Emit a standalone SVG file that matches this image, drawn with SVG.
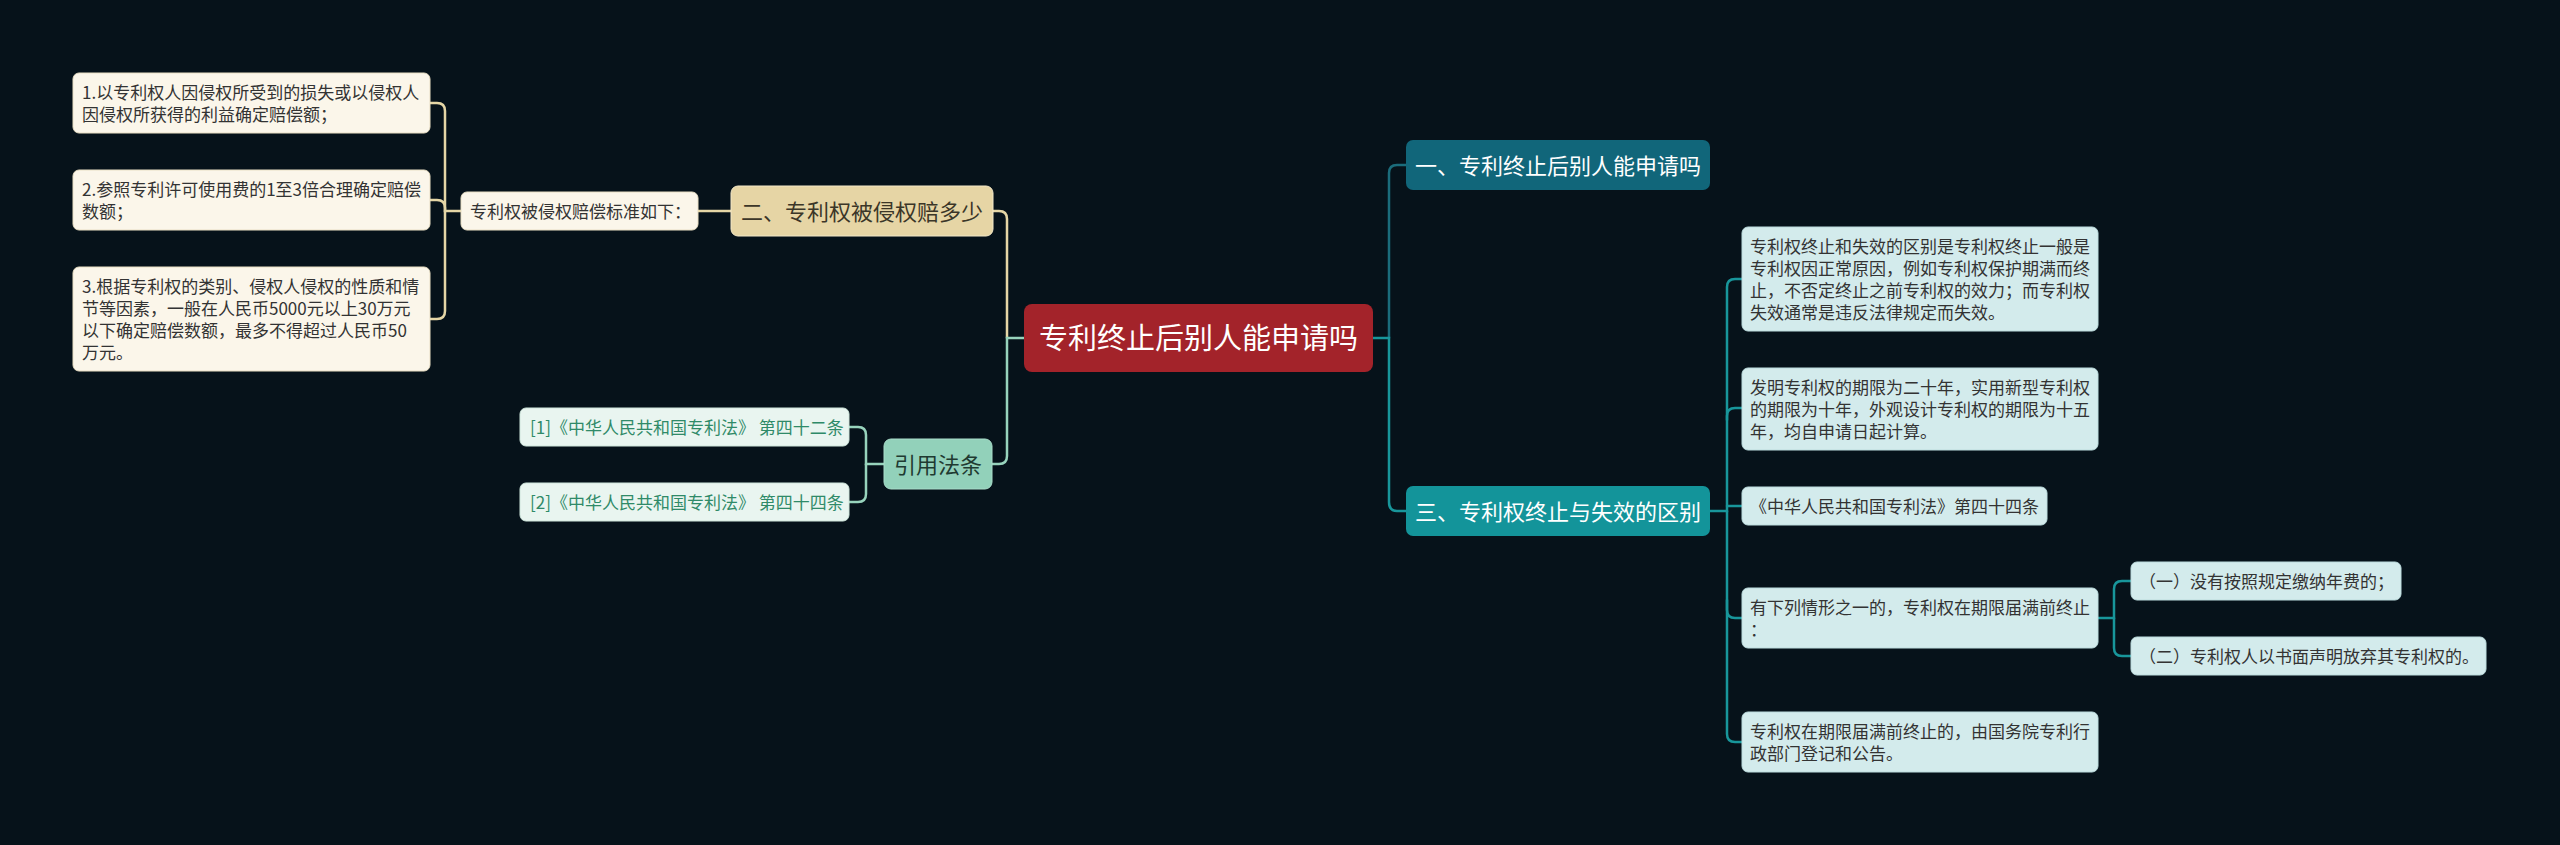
<svg xmlns="http://www.w3.org/2000/svg" width="2560" height="845" viewBox="0 0 2560 845">
<style>
text{font-family:"Noto Sans CJK SC","Noto Sans",sans-serif;}
.bg{fill:#06121a;}
.ln{fill:none;stroke-width:2.5;stroke-linecap:round;}
.cy{stroke:#e5d6a6;}
.cg{stroke:#97d3bc;}
.cd{stroke:#1b6c7b;}
.ct{stroke:#18969b;}
.leafY{fill:#fbf6ea;stroke:#e9dfc4;stroke-width:1;}
.leafG{fill:#e9f5f0;stroke:#cfe6dc;stroke-width:1;}
.leafC{fill:#d3ebec;stroke:#bcdcde;stroke-width:1;}
.t17{font-size:17px;fill:#333333;}
.tg{font-size:17px;fill:#2f8a68;}
.t22{font-size:22px;}
</style>
<rect class="bg" x="0" y="0" width="2560" height="845"/>
<g id="connectors">
<path class="ln cy" d="M1007 338 V219 Q1007 211 999 211 H993"/>
<path class="ln cg" d="M1024 338 H1007 V456 Q1007 464 999 464 H992"/>
<path class="ln cy" d="M731 211 H698"/>
<path class="ln cy" d="M461 211 H445 V111 Q445 103 437 103 H430"/>
<path class="ln cy" d="M445 211 V208 Q445 200 437 200 H430"/>
<path class="ln cy" d="M445 211 V311 Q445 319 437 319 H430"/>
<path class="ln cg" d="M884 464 H866 V435 Q866 427 858 427 H849"/>
<path class="ln cg" d="M866 464 V494 Q866 502 858 502 H849"/>
<path class="ln cd" d="M1389 338 V173 Q1389 165 1397 165 H1406"/>
<path class="ln ct" d="M1373 338 H1389 V502 Q1389 511 1397 511 H1406"/>
<path class="ln ct" d="M1710 511 H1727 V287 Q1727 279 1735 279 H1742"/>
<path class="ln ct" d="M1727 420 V416 Q1727 408 1735 408 H1742"/>
<path class="ln ct" d="M1727 506 H1742"/>
<path class="ln ct" d="M1727 511 V734 Q1727 742 1735 742 H1742"/>
<path class="ln ct" d="M1727 600 V610 Q1727 618 1735 618 H1742"/>
<path class="ln ct" d="M2098 618 H2114 V589 Q2114 581 2122 581 H2131"/>
<path class="ln ct" d="M2114 618 V648 Q2114 656 2122 656 H2131"/>
</g>
<g id="center">
<rect x="1024" y="304" width="349" height="68" rx="8" fill="#a3232a"/>
<text x="1198.5" y="349" font-size="29" fill="#ffffff" text-anchor="middle">专利终止后别人能申请吗</text>
</g>
<g id="n2">
<rect x="731" y="186" width="262" height="50" rx="7" fill="#e6d5a5" stroke="#f3e8c8" stroke-width="1"/>
<text class="t22" x="862" y="219.5" fill="#3b3628" text-anchor="middle">二、专利权被侵权赔多少</text>
</g>
<g id="n2a">
<rect class="leafY" x="461" y="192" width="237" height="38" rx="6"/>
<text class="t17" x="470" y="217.5">专利权被侵权赔偿标准如下：</text>
</g>
<g id="n2a1">
<rect class="leafY" x="73" y="73" width="357" height="60" rx="6"/>
<text class="t17" x="82" y="98.5">1.以专利权人因侵权所受到的损失或以侵权人</text>
<text class="t17" x="82" y="120.5">因侵权所获得的利益确定赔偿额；</text>
</g>
<g id="n2a2">
<rect class="leafY" x="73" y="170" width="357" height="60" rx="6"/>
<text class="t17" x="82" y="195.5">2.参照专利许可使用费的1至3倍合理确定赔偿</text>
<text class="t17" x="82" y="217.5">数额；</text>
</g>
<g id="n2a3">
<rect class="leafY" x="73" y="267" width="357" height="104" rx="6"/>
<text class="t17" x="82" y="292.5">3.根据专利权的类别、侵权人侵权的性质和情</text>
<text class="t17" x="82" y="314.5">节等因素，一般在人民币5000元以上30万元</text>
<text class="t17" x="82" y="336.5">以下确定赔偿数额，最多不得超过人民币50</text>
<text class="t17" x="82" y="358.5">万元。</text>
</g>
<g id="nref">
<rect x="884" y="439" width="108" height="50" rx="7" fill="#92d1ba" stroke="#a9ddca" stroke-width="1"/>
<text class="t22" x="938" y="472.5" fill="#1f3a31" text-anchor="middle">引用法条</text>
</g>
<g id="nref1">
<rect class="leafG" x="520" y="408" width="329" height="38" rx="6"/>
<text class="tg" x="530" y="433.5">[1]《中华人民共和国专利法》 第四十二条</text>
</g>
<g id="nref2">
<rect class="leafG" x="520" y="483" width="329" height="38" rx="6"/>
<text class="tg" x="530" y="508.5">[2]《中华人民共和国专利法》 第四十四条</text>
</g>
<g id="n1">
<rect x="1406" y="140" width="304" height="50" rx="7" fill="#11667a"/>
<text class="t22" x="1558" y="173.5" fill="#ffffff" text-anchor="middle">一、专利终止后别人能申请吗</text>
</g>
<g id="n3">
<rect x="1406" y="486" width="304" height="50" rx="7" fill="#13949a"/>
<text class="t22" x="1558" y="519.5" fill="#ffffff" text-anchor="middle">三、专利权终止与失效的区别</text>
</g>
<g id="n3a">
<rect class="leafC" x="1742" y="227" width="356" height="104" rx="6"/>
<text class="t17" x="1750" y="252.5">专利权终止和失效的区别是专利权终止一般是</text>
<text class="t17" x="1750" y="274.5">专利权因正常原因，例如专利权保护期满而终</text>
<text class="t17" x="1750" y="296.5">止，不否定终止之前专利权的效力；而专利权</text>
<text class="t17" x="1750" y="318.5">失效通常是违反法律规定而失效。</text>
</g>
<g id="n3b">
<rect class="leafC" x="1742" y="368" width="356" height="82" rx="6"/>
<text class="t17" x="1750" y="393.5">发明专利权的期限为二十年，实用新型专利权</text>
<text class="t17" x="1750" y="415.5">的期限为十年，外观设计专利权的期限为十五</text>
<text class="t17" x="1750" y="437.5">年，均自申请日起计算。</text>
</g>
<g id="n3c">
<rect class="leafC" x="1742" y="487" width="305" height="38" rx="6"/>
<text class="t17" x="1750" y="512.5">《中华人民共和国专利法》第四十四条</text>
</g>
<g id="n3d">
<rect class="leafC" x="1742" y="588" width="356" height="60" rx="6"/>
<text class="t17" x="1750" y="613.5">有下列情形之一的，专利权在期限届满前终止</text>
<text class="t17" x="1750" y="635.5">：</text>
</g>
<g id="n3d1">
<rect class="leafC" x="2131" y="562" width="270" height="38" rx="6"/>
<text class="t17" x="2139" y="587.5">（一）没有按照规定缴纳年费的；</text>
</g>
<g id="n3d2">
<rect class="leafC" x="2131" y="637" width="355" height="38" rx="6"/>
<text class="t17" x="2139" y="662.5">（二）专利权人以书面声明放弃其专利权的。</text>
</g>
<g id="n3e">
<rect class="leafC" x="1742" y="712" width="356" height="60" rx="6"/>
<text class="t17" x="1750" y="737.5">专利权在期限届满前终止的，由国务院专利行</text>
<text class="t17" x="1750" y="759.5">政部门登记和公告。</text>
</g>
</svg>
